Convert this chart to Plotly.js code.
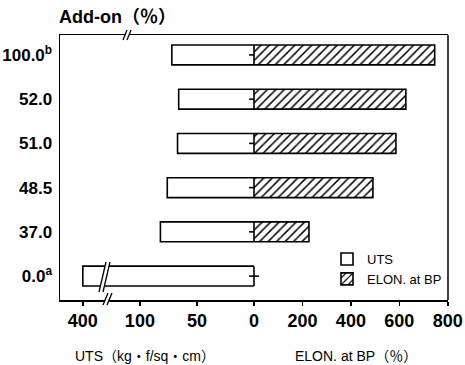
<!DOCTYPE html>
<html><head><meta charset="utf-8">
<script src="https://cdn.plot.ly/plotly-3.0.1.min.js"></script>
<style>html,body{margin:0;padding:0;background:#fff}#chart{width:465px;height:365px}</style>
</head><body><div id="chart"></div>
<script>
// ---- data ----
const categories = ['0.0<sup>a</sup>', '37.0', '48.5', '51.0', '52.0', '100.0<sup>b</sup>'];
const utsValues = [400, 82, 76, 67, 66, 72];          // UTS (kg·f/sq·cm)
const elonValues = [0, 227, 491, 586, 627, 746];      // ELON. at BP (%)
const utsTickValues = [400, 100, 50, 0];
const utsTickLabels = ['400', '100', '50', '0'];
const elonTickValues = [200, 400, 600, 800];
const elonTickLabels = ['200', '400', '600', '800'];

// broken UTS scale: linear to 100, compressed beyond the break
function utsPos(v) { return v <= 100 ? v : 150 + (v - 400) * 0.1; }

const FONT = '"Liberation Sans", Arial, "Noto Sans CJK JP", sans-serif';
const yIdx = categories.map((c, i) => i);

// pixel -> paper helpers for decorations
const L = 60, R = 448, T = 35, B = 300;
const fx = p => (p - L) / (R - L);
const fy = p => (B - p) / (B - T);
function breakMark(x1, y1, x2, y2, gap) {
  const poly = `M${fx(x1)},${fy(y1)} L${fx(x2)},${fy(y2)} L${fx(x2 + gap)},${fy(y2)} L${fx(x1 + gap)},${fy(y1)} Z`;
  return [
    {type: 'path', xref: 'paper', yref: 'paper', path: poly, fillcolor: '#fff', line: {width: 0}},
    {type: 'line', xref: 'paper', yref: 'paper', x0: fx(x1), y0: fy(y1), x1: fx(x2), y1: fy(y2), line: {color: '#000', width: 1.3}},
    {type: 'line', xref: 'paper', yref: 'paper', x0: fx(x1 + gap), y0: fy(y1), x1: fx(x2 + gap), y1: fy(y2), line: {color: '#000', width: 1.3}}
  ];
}

const traces = [
  {
    type: 'bar', orientation: 'h', name: 'UTS',
    x: utsValues.map(utsPos), y: yIdx, xaxis: 'x', yaxis: 'y', width: 0.45,
    marker: {color: '#fff', line: {color: '#000', width: 1.6}},
    hoverinfo: 'skip'
  },
  {
    type: 'bar', orientation: 'h', name: 'ELON. at BP',
    x: elonValues, y: yIdx, xaxis: 'x2', yaxis: 'y', width: 0.45,
    marker: {color: '#fff', line: {color: '#000', width: 1.6},
      pattern: {shape: '/', fgcolor: '#000', bgcolor: '#fff', size: 6, solidity: 0.25, fillmode: 'replace'}},
    hoverinfo: 'skip'
  },
  {
    type: 'scatter', mode: 'markers', showlegend: false, cliponaxis: false,
    x: yIdx.map(() => 0), y: yIdx, xaxis: 'x', yaxis: 'y',
    marker: {symbol: 'line-ew', size: 7, line: {color: '#000', width: 1.6}},
    hoverinfo: 'skip'
  }
];

const axisCommon = {
  showline: true, linecolor: '#000', linewidth: 1.5, mirror: true,
  ticks: 'outside', ticklen: 4, tickcolor: '#000', tickwidth: 1.5,
  showgrid: false, zeroline: false, fixedrange: true,
  tickfont: {family: FONT, size: 18, color: '#000', weight: 'bold'}
};

const shapes = [
  {type: 'line', xref: 'paper', yref: 'paper', x0: 1, x1: 1, y0: 0, y1: 1, line: {color: '#000', width: 1.5}},
  ...breakMark(103, 305, 108, 293, 4),
  ...breakMark(99, 292, 106, 262, 4),
  ...breakMark(123, 40, 127, 30, 4)
];

const layout = {
  width: 465, height: 365,
  margin: {l: L, r: 465 - R, t: T, b: 365 - B},
  paper_bgcolor: '#fff', plot_bgcolor: '#fff',
  barmode: 'overlay',
  bargap: 0,
  font: {family: FONT, color: '#000'},
  xaxis: Object.assign({}, axisCommon, {
    domain: [0, 0.5], range: [170, 0], anchor: 'y',
    tickmode: 'array', tickvals: utsTickValues.map(utsPos), ticktext: utsTickLabels
  }),
  xaxis2: Object.assign({}, axisCommon, {
    domain: [0.5, 1], range: [0, 801], anchor: 'y',
    tickmode: 'array', tickvals: elonTickValues, ticktext: elonTickLabels
  }),
  yaxis: {
    range: [-0.54, 5.45], anchor: 'x', showline: true, linecolor: '#000', linewidth: 1.5,
    mirror: false, ticks: '', showgrid: false, zeroline: false, fixedrange: true,
    tickmode: 'array', tickvals: yIdx, ticktext: categories,
    tickfont: {family: FONT, size: 17, color: '#000', weight: 'bold'}, ticklabelstandoff: 3
  },
  showlegend: true,
  legend: {
    x: fx(327), y: fy(244), xanchor: 'left', yanchor: 'top',
    bgcolor: 'rgba(0,0,0,0)', borderwidth: 0, traceorder: 'normal',
    font: {family: FONT, size: 13, color: '#000'}, itemwidth: 30
  },
  annotations: [
    {xref: 'paper', yref: 'paper', x: fx(57), y: fy(17), xanchor: 'left', yanchor: 'middle',
     text: 'Add-on（％）', showarrow: false, font: {family: FONT, size: 18, color: '#000', weight: 'bold'}},
    {xref: 'paper', yref: 'paper', x: fx(145), y: fy(356), xanchor: 'center', yanchor: 'middle',
     text: 'UTS（kg・f/sq・cm）', showarrow: false, font: {family: FONT, size: 14, color: '#000'}},
    {xref: 'paper', yref: 'paper', x: fx(356), y: fy(356), xanchor: 'center', yanchor: 'middle',
     text: 'ELON. at BP（％）', showarrow: false, font: {family: FONT, size: 14, color: '#000'}}
  ],
  shapes: shapes
};

Plotly.newPlot('chart', traces, layout, {staticPlot: true, displayModeBar: false});
</script></body></html>
